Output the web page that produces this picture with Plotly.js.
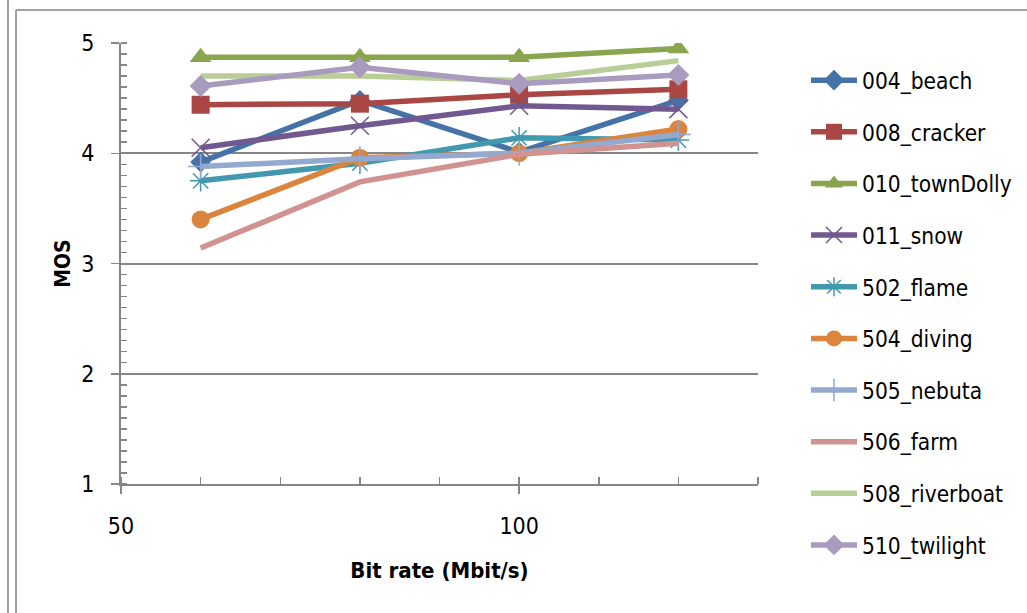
<!DOCTYPE html>
<html>
<head>
<meta charset="utf-8">
<script src="https://cdn.plot.ly/plotly-3.0.1.min.js"></script>
<style>html,body{margin:0;padding:0;background:#fff;}#chart{width:1027px;height:613px;}</style>
</head>
<body>
<div id="chart"></div>
<script>
const bitRates = [60, 80, 100, 120];
const seriesNames = ["004_beach","008_cracker","010_townDolly","011_snow","502_flame","504_diving","505_nebuta","506_farm","508_riverboat","510_twilight"];
const beach     = [3.92, 4.48, 4.01, 4.48];
const cracker   = [4.44, 4.45, 4.53, 4.58];
const townDolly = [4.87, 4.87, 4.87, 4.95];
const snow      = [4.05, 4.25, 4.43, 4.40];
const flame     = [3.75, 3.91, 4.14, 4.12];
const diving    = [3.40, 3.96, 4.00, 4.22];
const nebuta    = [3.88, 3.95, 4.00, 4.17];
const farm      = [3.14, 3.74, 3.99, 4.09];
const riverboat = [4.70, 4.70, 4.66, 4.84];
const twilight  = [4.61, 4.78, 4.63, 4.71];
const xTickVals = [50, 100];
const yTickVals = [1, 2, 3, 4, 5];

const values = [beach, cracker, townDolly, snow, flame, diving, nebuta, farm, riverboat, twilight];
const colors = ["#4572A7","#AA4643","#89A54E","#71588F","#4198AF","#DB843D","#93A9CF","#D19392","#B9CD96","#A99BBD"];
const symbols = ["diamond","square","triangle-up","x-thin","asterisk-open","circle","cross-thin",null,null,"diamond"];
const sizes = [16,18,19,18,18,18,18,0,0,17];

const FONT = "'DejaVu Sans Condensed', 'Liberation Sans', sans-serif";

const traces = seriesNames.map((n, i) => {
  const t = {
    x: bitRates, y: values[i], name: n, type: 'scatter',
    legendgroup: 'g' + i,
    line: {color: colors[i], width: 5.5},
    mode: symbols[i] ? 'lines+markers' : 'lines'
  };
  if (symbols[i]) {
    const thin = symbols[i].indexOf('thin') >= 0 || symbols[i].indexOf('asterisk') >= 0;
    t.marker = {symbol: symbols[i], size: sizes[i], color: colors[i],
      line: {color: colors[i], width: thin ? 1.5 : 0}};
  }
  return t;
});

function px(xp){ return (xp - 121) / 637; }
function py(yp){ return (484 - yp) / 441; }

const layout = {
  width: 1027, height: 613,
  margin: {l: 121, r: 269, t: 43, b: 129, autoexpand: false},
  paper_bgcolor: '#fff', plot_bgcolor: '#fff',
  font: {family: FONT, size: 23, color: '#000'},
  showlegend: true,
  legend: {
    x: px(806), y: py(59), xanchor: 'left', yanchor: 'top',
    font: {family: FONT, size: 22.5, color: '#000'},
    itemwidth: 46, tracegroupgap: 19.4, traceorder: 'grouped',
    maxheight: 600,
    borderwidth: 0, bgcolor: 'rgba(0,0,0,0)'
  },
  xaxis: {
    range: [50, 130], tickvals: xTickVals, ticktext: xTickVals.map(String),
    showgrid: false, zeroline: false,
    showline: true, linecolor: '#868686', linewidth: 2,
    ticks: 'outside', ticklen: 8, tickcolor: '#868686', tickwidth: 1.5,
    minor: {dtick: 10, tick0: 50, ticks: 'inside', ticklen: 7, tickcolor: '#868686', tickwidth: 1.5, showgrid: false},
    tickfont: {family: FONT, size: 23}, ticklabelstandoff: 12,
    title: {text: '<b>Bit rate (Mbit/s)</b>', font: {family: FONT, size: 22}, standoff: 25}
  },
  yaxis: {
    range: [1, 5], tickvals: yTickVals, ticktext: yTickVals.map(String),
    showgrid: true, gridcolor: '#868686', gridwidth: 2, zeroline: false,
    showline: true, linecolor: '#868686', linewidth: 2,
    ticks: 'outside', ticklen: 8, tickcolor: '#868686', tickwidth: 1.5,
    minor: {dtick: 0.1, tick0: 1, ticks: 'inside', ticklen: 6, tickcolor: '#868686', tickwidth: 1.5, showgrid: false},
    tickfont: {family: FONT, size: 23}, ticklabelstandoff: 12,
    title: {text: '<b>MOS</b>', font: {family: FONT, size: 21}, standoff: 5}
  },
  shapes: [
    {type: 'line', xref: 'paper', yref: 'paper', x0: px(8), x1: px(8), y0: py(-5), y1: py(620), line: {color: '#a0a0a0', width: 2}},
    {type: 'line', xref: 'paper', yref: 'paper', x0: px(16), x1: px(16), y0: py(10), y1: py(620), line: {color: '#a0a0a0', width: 2}},
    {type: 'line', xref: 'paper', yref: 'paper', x0: px(16), x1: px(1040), y0: py(10), y1: py(10), line: {color: '#a0a0a0', width: 2}}
  ]
};

Plotly.newPlot('chart', traces, layout, {displayModeBar: false, staticPlot: true});
</script>
</body>
</html>
